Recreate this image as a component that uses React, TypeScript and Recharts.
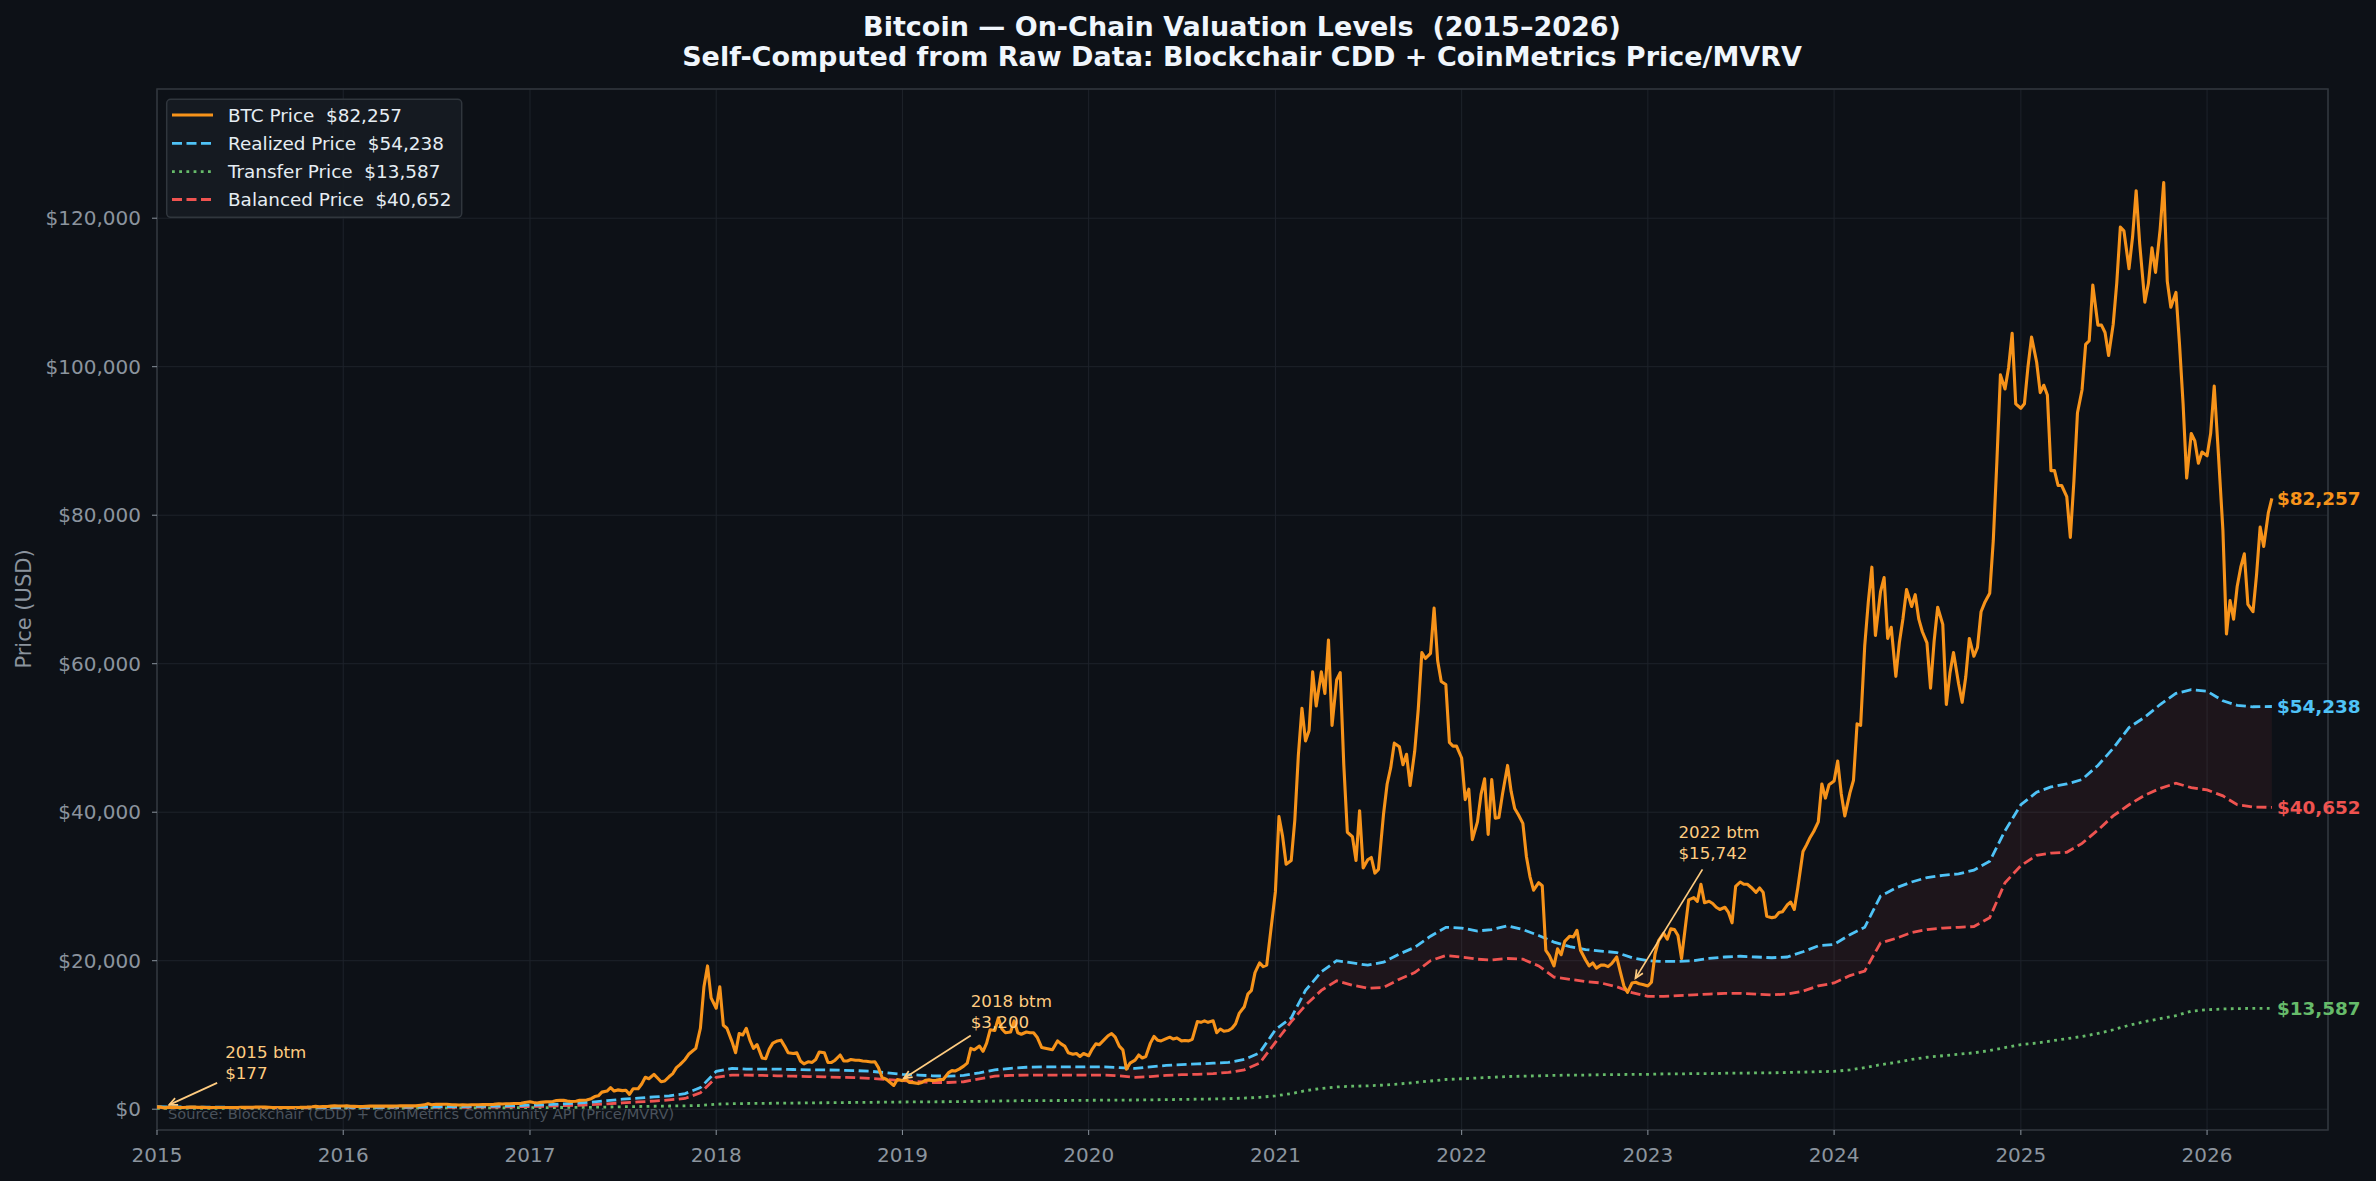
import React from 'react';
import {
  ComposedChart,
  Line,
  Area,
  XAxis,
  YAxis,
  CartesianGrid,
  ReferenceDot,
  ReferenceArea,
} from 'recharts';

const FONT = '"DejaVu Sans", Verdana, sans-serif';
const BG = '#0d1117';
const TICK = '#8b949e';
const GRID = '#1e232b';
const SPINE = '#30363d';
const C_BTC = '#f7931a';
const C_REAL = '#4fc3f7';
const C_TRANS = '#66bb6a';
const C_BAL = '#ef5350';
const C_ANN = '#ffcc80';

const W = 2376;
const H = 1181;

// ---------- data ----------
const YEARS = [2015, 2016, 2017, 2018, 2019, 2020, 2021, 2022, 2023, 2024, 2025, 2026];
const BTC_DAYS = [1, 8, 15, 22];

// BTC price, four readings per month (1st, 8th, 15th, 22nd)
const btc2015 = [315, 290, 177, 235, 225, 225, 235, 240, 260, 290, 285, 245, 245, 235, 220, 225, 235, 240, 237, 235, 225, 230, 250, 245, 255, 270, 285, 280, 280, 265, 230, 230, 230, 240, 230, 235, 240, 245, 265, 280, 325, 380, 330, 360, 360, 420, 455, 430];
const btc2016 = [430, 450, 390, 385, 370, 375, 400, 435, 420, 410, 415, 415, 420, 420, 430, 450, 445, 460, 455, 445, 535, 580, 740, 600, 670, 650, 670, 660, 605, 590, 575, 580, 575, 610, 605, 600, 615, 620, 640, 655, 730, 710, 740, 740, 760, 770, 790, 900];
const btc2017 = [1000, 905, 830, 920, 990, 1000, 1040, 1180, 1190, 1200, 1100, 1040, 1080, 1190, 1200, 1250, 1420, 1700, 1800, 2300, 2450, 2900, 2450, 2600, 2500, 2550, 2000, 2750, 2750, 3400, 4300, 4100, 4700, 4200, 3700, 3800, 4400, 4800, 5600, 6000, 6700, 7400, 7800, 8200, 10900, 16500, 19300, 15000];
const btc2018 = [13600, 16500, 11300, 10900, 9100, 7600, 10200, 10000, 10900, 9300, 8200, 8700, 6900, 6800, 8100, 8900, 9200, 9300, 8500, 7600, 7500, 7600, 6500, 6100, 6400, 6300, 6700, 7700, 7600, 6300, 6300, 6600, 7300, 6500, 6500, 6700, 6600, 6600, 6500, 6450, 6350, 6400, 5600, 4300, 4000, 3600, 3200, 4000];
const btc2019 = [3850, 4000, 3600, 3580, 3450, 3600, 3900, 3950, 3850, 3900, 4000, 4000, 4900, 5200, 5150, 5400, 5800, 6200, 8200, 8000, 8500, 7800, 8900, 10700, 10600, 12300, 10800, 10300, 10400, 11900, 10300, 10100, 10400, 10300, 10300, 9700, 8300, 8200, 8100, 8000, 9200, 8800, 8500, 7600, 7400, 7500, 7100, 7500];
const btc2020 = [7200, 8100, 8800, 8700, 9400, 9900, 10200, 9700, 8500, 8000, 5400, 6200, 6600, 7300, 6900, 7100, 8900, 9800, 9300, 9200, 9500, 9700, 9450, 9600, 9200, 9250, 9200, 9400, 11800, 11700, 11900, 11700, 11900, 10300, 10800, 10500, 10600, 10900, 11500, 12900, 13800, 15500, 16000, 18400, 19700, 19200, 19400, 23500];
const btc2021 = [29300, 39400, 36800, 33000, 33500, 38900, 47700, 54000, 49600, 51000, 58900, 54300, 58900, 56000, 63200, 51700, 57800, 58800, 46400, 37300, 36700, 33500, 40200, 32500, 33600, 33900, 31800, 32300, 39800, 43800, 46000, 49300, 48800, 46400, 47800, 43600, 48200, 53900, 61500, 60700, 61400, 67500, 60400, 57600, 57200, 49400, 48900, 48900];
const btc2022 = [47300, 41700, 43100, 36300, 38700, 42400, 44500, 37000, 44400, 39200, 39300, 42400, 46300, 42800, 40500, 39700, 38500, 34000, 31300, 29500, 30500, 30100, 21400, 20700, 19300, 21600, 20800, 22600, 23300, 23200, 24100, 21400, 20100, 19300, 19700, 19000, 19400, 19400, 19200, 19600, 20500, 18500, 16600, 15742, 17000, 17100, 16900, 16800];
const btc2023 = [16600, 17100, 20900, 22700, 23700, 22900, 24300, 24200, 23400, 20300, 24300, 28200, 28500, 28000, 30300, 27800, 28000, 27700, 27200, 26900, 27200, 26500, 25100, 30000, 30600, 30300, 30300, 29900, 29200, 29800, 29200, 26000, 25800, 25900, 26500, 26600, 27500, 27900, 26900, 29900, 34700, 35600, 36600, 37400, 38700, 43800, 41900, 43700];
const btc2024 = [44200, 46900, 42500, 39500, 42600, 44300, 51900, 51700, 62400, 68300, 73000, 63800, 69700, 71600, 63400, 64900, 58300, 62900, 66100, 70000, 67700, 69300, 66000, 64300, 62800, 56700, 63000, 67600, 65300, 54500, 58700, 61500, 57300, 54800, 58200, 63400, 61000, 62200, 67000, 68200, 69500, 76600, 87200, 98900, 97000, 99900, 104500, 95000];
const btc2025 = [94400, 95000, 100000, 104000, 100600, 96500, 97500, 96200, 86000, 86000, 84000, 84000, 82500, 77000, 84600, 93800, 96900, 103000, 103500, 111000, 105600, 105600, 104600, 101500, 105700, 111300, 118800, 118300, 113200, 117500, 123700, 116500, 108700, 111200, 116000, 112700, 118500, 124800, 111500, 108000, 110000, 103000, 95000, 85000, 91000, 90000, 87000, 88500];
const btc2026 = [88000, 91000, 97400, 89600, 78000, 64000, 68500, 66000, 70400, 73000, 74800, 68000, 67000, 72000, 78400, 75800, 80300, 82257];

// Monthly on-chain levels (1st of month; last reading on the final BTC date)
const real2015 = [330, 310, 290, 275, 265, 255, 250, 245, 240, 235, 235, 240];
const real2016 = [250, 255, 260, 270, 285, 300, 330, 350, 370, 390, 420, 470];
const real2017 = [540, 600, 700, 800, 950, 1150, 1350, 1500, 1650, 1800, 2100, 2900];
const real2018 = [5100, 5500, 5400, 5400, 5400, 5350, 5300, 5300, 5250, 5200, 5100, 4900];
const real2019 = [4700, 4600, 4500, 4450, 4550, 4900, 5300, 5500, 5650, 5700, 5700, 5700];
const real2020 = [5700, 5700, 5600, 5500, 5700, 5900, 6000, 6100, 6200, 6300, 6700, 7600];
const real2021 = [10700, 12300, 16000, 18500, 20000, 19700, 19400, 19800, 20900, 21800, 23300, 24500];
const real2022 = [24400, 24000, 24200, 24700, 24200, 23400, 22500, 21900, 21500, 21300, 21100, 20400];
const real2023 = [20000, 19900, 19900, 20000, 20300, 20500, 20600, 20500, 20400, 20500, 21200, 22000];
const real2024 = [22200, 23500, 24500, 28700, 29800, 30600, 31200, 31500, 31700, 32200, 33400, 37500];
const real2025 = [41000, 42700, 43400, 43800, 44400, 46300, 48600, 51400, 52800, 54500, 56000, 56500];
const real2026 = [56300, 55000, 54400, 54200, 54238];

const bal2015 = [260, 245, 230, 220, 210, 200, 195, 190, 185, 180, 180, 185];
const bal2016 = [190, 195, 200, 205, 210, 220, 240, 255, 265, 280, 300, 330];
const bal2017 = [360, 400, 460, 520, 600, 720, 850, 980, 1100, 1250, 1450, 2200];
const bal2018 = [4300, 4600, 4600, 4550, 4500, 4450, 4400, 4350, 4300, 4250, 4150, 4000];
const bal2019 = [3850, 3700, 3600, 3600, 3700, 4100, 4450, 4550, 4600, 4600, 4600, 4600];
const bal2020 = [4600, 4600, 4500, 4300, 4400, 4550, 4650, 4700, 4800, 4950, 5300, 6200];
const bal2021 = [9000, 11800, 14000, 16000, 17300, 16700, 16300, 16400, 17500, 18400, 20000, 20700];
const bal2022 = [20500, 20200, 20100, 20300, 20200, 19300, 17800, 17500, 17200, 17000, 16500, 15700];
const bal2023 = [15200, 15200, 15300, 15400, 15500, 15600, 15600, 15500, 15400, 15500, 15900, 16600];
const bal2024 = [17000, 18000, 18600, 22400, 23000, 23800, 24200, 24400, 24500, 24600, 25800, 30500];
const bal2025 = [32800, 34200, 34500, 34600, 35800, 37600, 39500, 41000, 42300, 43200, 43900, 43300];
const bal2026 = [43000, 42200, 41000, 40700, 40652];

const trans2015 = [120, 120, 120, 120, 120, 125, 125, 125, 125, 130, 130, 135];
const trans2016 = [140, 145, 150, 150, 155, 160, 170, 175, 180, 185, 190, 200];
const trans2017 = [210, 220, 230, 240, 260, 290, 330, 360, 400, 430, 460, 500];
const trans2018 = [680, 740, 770, 790, 810, 830, 850, 870, 890, 910, 930, 950];
const trans2019 = [970, 990, 1000, 1010, 1030, 1060, 1100, 1130, 1150, 1160, 1170, 1180];
const trans2020 = [1200, 1220, 1230, 1240, 1260, 1290, 1320, 1350, 1380, 1420, 1500, 1600];
const trans2021 = [1800, 2100, 2500, 2800, 3000, 3100, 3150, 3250, 3400, 3600, 3800, 4000];
const trans2022 = [4100, 4200, 4300, 4400, 4450, 4500, 4550, 4600, 4600, 4650, 4650, 4700];
const trans2023 = [4700, 4750, 4750, 4800, 4800, 4850, 4850, 4900, 4900, 4950, 5000, 5050];
const trans2024 = [5100, 5300, 5600, 6000, 6300, 6700, 7000, 7200, 7400, 7600, 7900, 8300];
const trans2025 = [8700, 8900, 9200, 9500, 9800, 10200, 10700, 11300, 11800, 12200, 12600, 13200];
const trans2026 = [13400, 13500, 13550, 13580, 13587];

const Y_TICKS = [0, 20000, 40000, 60000, 80000, 100000, 120000];
const X_TICK_YEARS = [2015, 2016, 2017, 2018, 2019, 2020, 2021, 2022, 2023, 2024, 2025, 2026];

// annotations: point date, value, label
const ANN_DATES = ['2015-01-15', '2018-12-15', '2022-11-22'];
const ANN_VALUES = [177, 3200, 15742];
const ANN_LABELS = ['2015 btm', '2018 btm', '2022 btm'];

// ---------- build tables ----------
const BTC_BY_YEAR = [btc2015, btc2016, btc2017, btc2018, btc2019, btc2020, btc2021, btc2022, btc2023, btc2024, btc2025, btc2026];
const REAL_BY_YEAR = [real2015, real2016, real2017, real2018, real2019, real2020, real2021, real2022, real2023, real2024, real2025, real2026];
const BAL_BY_YEAR = [bal2015, bal2016, bal2017, bal2018, bal2019, bal2020, bal2021, bal2022, bal2023, bal2024, bal2025, bal2026];
const TRANS_BY_YEAR = [trans2015, trans2016, trans2017, trans2018, trans2019, trans2020, trans2021, trans2022, trans2023, trans2024, trans2025, trans2026];

const btcData = BTC_BY_YEAR.flatMap((vals, yi) =>
  vals.map((v, i) => ({ t: Date.UTC(YEARS[yi], Math.floor(i / 4), BTC_DAYS[i % 4]), btc: v }))
);
const LAST_T = btcData[btcData.length - 1].t;

const valData = REAL_BY_YEAR.flatMap((vals, yi) =>
  vals.map((r, m) => ({
    t: Date.UTC(YEARS[yi], m, 1),
    real: r,
    bal: BAL_BY_YEAR[yi][m],
    trans: TRANS_BY_YEAR[yi][m],
  }))
);
valData[valData.length - 1].t = LAST_T;

const last = (arr: number[]) => arr[arr.length - 1];
const fmtUSD = (v: number) => '$' + Math.round(v).toLocaleString('en-US');

const BTC_W = 3.1;
const LVL_W = 2.8;
const DASH = '10 4.5';
const DOT = '2.8 4.4';

const SERIES = [
  { key: 'btc', name: 'BTC Price', color: C_BTC, dash: undefined as string | undefined, width: BTC_W, lastVal: last(btc2026) },
  { key: 'real', name: 'Realized Price', color: C_REAL, dash: DASH, width: LVL_W, lastVal: last(real2026) },
  { key: 'trans', name: 'Transfer Price', color: C_TRANS, dash: DOT, width: LVL_W, lastVal: last(trans2026) },
  { key: 'bal', name: 'Balanced Price', color: C_BAL, dash: DASH, width: LVL_W, lastVal: last(bal2026) },
];

const X_MIN = Date.UTC(2015, 0, 1);
const X_MAX = Date.UTC(2026, 7, 26);
const Y_MIN = -2800;
const Y_MAX = 137400;
const X_TICKS = X_TICK_YEARS.map((y) => Date.UTC(y, 0, 1));

// annotation layout offsets (pixels relative to the annotated point)
const ANN_LAYOUT = [
  { tx: 61, ty: -56, ax: 53, ay: -25, hx: 5, hy: -3 },
  { tx: 77, ty: -85, ax: 77, ay: -50, hx: 10, hy: -7 },
  { tx: 51, ty: -160, ax: 75, ay: -123, hx: 8, hy: -14 },
];

const PRE = { whiteSpace: 'pre' as const };

const makeAnnShape = (idx: number) => (props: any) => {
  const { cx, cy } = props;
  if (cx == null || cy == null) return <g />;
  const L = ANN_LAYOUT[idx];
  const x1 = cx + L.ax, y1 = cy + L.ay, x2 = cx + L.hx, y2 = cy + L.hy;
  const ang = Math.atan2(y2 - y1, x2 - x1);
  const hl = 9, ha = 0.42;
  const p1x = x2 - hl * Math.cos(ang - ha), p1y = y2 - hl * Math.sin(ang - ha);
  const p2x = x2 - hl * Math.cos(ang + ha), p2y = y2 - hl * Math.sin(ang + ha);
  const fs = 16.7;
  return (
    <g>
      <line x1={x1} y1={y1} x2={x2} y2={y2} stroke={C_ANN} strokeWidth={1.7} />
      <polyline points={`${p1x},${p1y} ${x2},${y2} ${p2x},${p2y}`} fill="none" stroke={C_ANN} strokeWidth={1.7} />
      <text x={cx + L.tx} y={cy + L.ty + 0.365 * fs} fill={C_ANN} fontSize={fs} fontFamily={FONT}>
        {ANN_LABELS[idx]}
      </text>
      <text x={cx + L.tx} y={cy + L.ty + 21 + 0.365 * fs} fill={C_ANN} fontSize={fs} fontFamily={FONT}>
        {fmtUSD(ANN_VALUES[idx])}
      </text>
    </g>
  );
};

const makeEndShape = (color: string, value: number) => (props: any) => {
  const { cx, cy } = props;
  if (cx == null || cy == null) return <g />;
  const fs = 18.4;
  return (
    <text x={cx + 5} y={cy + 0.365 * fs} fill={color} fontSize={fs} fontWeight="bold" fontFamily={FONT}>
      {fmtUSD(value)}
    </text>
  );
};

const Overlay = () => {
  const legendTop = 99.3;
  const rowY = [115, 143.3, 171.6, 199.5];
  return (
    <svg width={W} height={H} style={{ position: 'absolute', left: 0, top: 0, pointerEvents: 'none' }}>
      <text x={1242} y={35.5} textAnchor="middle" fill="#f0f6fc" fontSize={27} fontWeight="bold" fontFamily={FONT} style={PRE}>
        {'Bitcoin — On-Chain Valuation Levels  (2015–2026)'}
      </text>
      <text x={1242} y={65.5} textAnchor="middle" fill="#f0f6fc" fontSize={27} fontWeight="bold" fontFamily={FONT} style={PRE}>
        {'Self-Computed from Raw Data: Blockchair CDD + CoinMetrics Price/MVRV'}
      </text>
      <text transform="translate(30.7,609) rotate(-90)" textAnchor="middle" fill={TICK} fontSize={21} fontFamily={FONT}>
        Price (USD)
      </text>
      <text x={168} y={1119.3} fill="#4a525c" fontSize={14.6} fontFamily={FONT}>
        Source: Blockchair (CDD) + CoinMetrics Community API (Price/MVRV)
      </text>
      <rect x={166.7} y={legendTop} width={295} height={118} rx={4} fill="#161b22" fillOpacity={0.95} stroke={SPINE} strokeWidth={1.5} />
      {SERIES.map((s, i) => (
        <g key={s.key}>
          <line x1={172} x2={213} y1={rowY[i]} y2={rowY[i]} stroke={s.color} strokeWidth={s.width} strokeDasharray={s.dash} />
          <text x={228} y={rowY[i] + 0.365 * 18.4} fill="#e6edf3" fontSize={18.4} fontFamily={FONT} style={PRE}>
            {`${s.name}  ${fmtUSD(s.lastVal)}`}
          </text>
        </g>
      ))}
    </svg>
  );
};

export default function App() {
  const tickStyle = { fill: TICK, fontSize: 20, fontFamily: FONT };
  return (
    <div style={{ position: 'absolute', left: 0, top: 0, width: W, height: H, background: BG, overflow: 'hidden' }}>
      <ComposedChart width={W} height={H} margin={{ top: 89, right: 48, bottom: 11, left: 0 }}>
        <CartesianGrid stroke={GRID} strokeWidth={1} />
        <XAxis
          type="number"
          dataKey="t"
          domain={[X_MIN, X_MAX]}
          ticks={X_TICKS}
          allowDataOverflow
          tickFormatter={(v: number) => String(new Date(v).getUTCFullYear())}
          height={40}
          tickSize={5}
          tickMargin={13}
          tick={tickStyle}
          tickLine={{ stroke: TICK }}
          axisLine={false}
        />
        <YAxis
          type="number"
          domain={[Y_MIN, Y_MAX]}
          ticks={Y_TICKS}
          allowDataOverflow
          tickFormatter={(v: number) => fmtUSD(v)}
          width={157}
          tickSize={5}
          tickMargin={11}
          tick={tickStyle}
          tickLine={{ stroke: TICK }}
          axisLine={false}
        />
        <Area
          data={valData}
          dataKey={(d: any) => [d.bal, d.real]}
          type="linear"
          stroke="none"
          fill={C_BAL}
          fillOpacity={0.07}
          isAnimationActive={false}
          activeDot={false}
        />
        <Line data={valData} dataKey="trans" type="linear" stroke={C_TRANS} strokeWidth={LVL_W} strokeDasharray={DOT} dot={false} activeDot={false} isAnimationActive={false} />
        <Line data={valData} dataKey="bal" type="linear" stroke={C_BAL} strokeWidth={LVL_W} strokeDasharray={DASH} dot={false} activeDot={false} isAnimationActive={false} />
        <Line data={valData} dataKey="real" type="linear" stroke={C_REAL} strokeWidth={LVL_W} strokeDasharray={DASH} dot={false} activeDot={false} isAnimationActive={false} />
        <Line data={btcData} dataKey="btc" type="linear" stroke={C_BTC} strokeWidth={BTC_W} strokeLinejoin="round" dot={false} activeDot={false} isAnimationActive={false} />
        {ANN_DATES.map((d, i) => (
          <ReferenceDot key={d} x={Date.parse(d)} y={ANN_VALUES[i]} r={0} shape={makeAnnShape(i)} />
        ))}
        <ReferenceDot x={LAST_T} y={last(btc2026)} r={0} shape={makeEndShape(C_BTC, last(btc2026))} />
        <ReferenceDot x={LAST_T} y={last(real2026)} r={0} shape={makeEndShape(C_REAL, last(real2026))} />
        <ReferenceDot x={LAST_T} y={last(bal2026)} r={0} shape={makeEndShape(C_BAL, last(bal2026))} />
        <ReferenceDot x={LAST_T} y={last(trans2026)} r={0} shape={makeEndShape(C_TRANS, last(trans2026))} />
        <ReferenceArea x1={X_MIN} x2={X_MAX} y1={Y_MIN} y2={Y_MAX} fill="none" stroke={SPINE} strokeWidth={1.6} ifOverflow="visible" />
      </ComposedChart>
      <Overlay />
    </div>
  );
}
